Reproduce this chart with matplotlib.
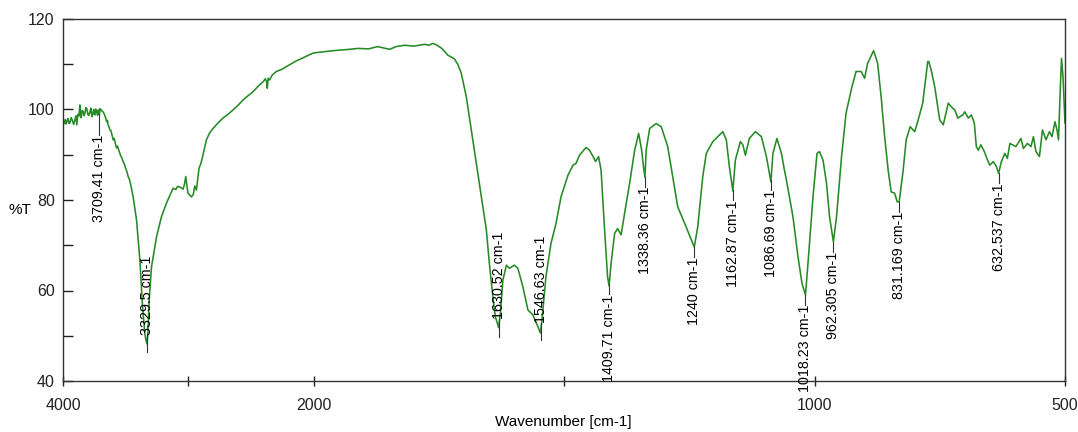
import numpy as np
import matplotlib
matplotlib.use("Agg")
import matplotlib.pyplot as plt

# FTIR spectrum (wavenumber in cm-1, transmittance in %T)
wavenumber = [
    4000, 3990, 3982, 3975, 3968, 3960, 3952, 3944, 3935, 3925, 3915, 3904, 3897, 3890,
    3882, 3875, 3870, 3865, 3860, 3855, 3848, 3840, 3832, 3825, 3818, 3810, 3802, 3795,
    3785, 3778, 3770, 3762, 3755, 3750, 3745, 3738, 3730, 3724, 3719, 3714, 3709, 3704,
    3700, 3690, 3681, 3672, 3665, 3658, 3652, 3645, 3640, 3633, 3626, 3618, 3612, 3605,
    3599, 3592, 3585, 3578, 3572, 3565, 3559, 3550, 3540, 3530, 3520, 3510, 3500, 3490,
    3480, 3470, 3460, 3440, 3413, 3386, 3365, 3347,
    3339, 3330, 3322, 3312, 3293, 3253, 3214, 3174, 3121, 3100, 3085, 3068, 3041, 3030,
    3020, 3010, 3002, 2975, 2960, 2948, 2935, 2914, 2900, 2887, 2870, 2855, 2830, 2802,
    2760, 2723, 2680, 2643, 2600, 2563, 2520, 2484, 2440, 2400, 2385, 2375, 2369, 2362,
    2351, 2330, 2297, 2250, 2191, 2140, 2085, 2040, 2000, 1961, 1928, 1911, 1890, 1872,
    1860, 1848, 1835, 1818, 1800, 1778, 1770, 1762, 1755, 1745, 1738, 1732, 1725, 1719,
    1712, 1705, 1695, 1685, 1675, 1665, 1655, 1649, 1642, 1637, 1632, 1630.5, 1627, 1622,
    1615, 1609, 1599, 1592, 1582, 1572, 1562, 1552, 1547, 1544, 1536, 1526, 1516, 1506,
    1492, 1482, 1476, 1469, 1456, 1449, 1442, 1437, 1431, 1426, 1419, 1413, 1410, 1406,
    1399, 1393, 1386, 1379, 1369, 1359, 1351, 1345, 1341, 1338.4, 1336, 1329, 1316, 1306,
    1293, 1283, 1273, 1259, 1246, 1240, 1233, 1223, 1216, 1203, 1183, 1176, 1170, 1163,
    1158, 1148, 1143, 1138, 1130, 1118, 1106, 1096, 1087, 1083, 1075, 1066, 1060, 1056,
    1043, 1033, 1025, 1018, 1013, 1003, 995, 990, 983, 976, 970, 962.3, 956, 946,
    937, 926, 917, 907, 900, 894, 882, 874, 867, 860, 853, 847, 840, 835,
    831, 823, 817, 809, 800, 794, 784, 774, 772, 767, 760, 750, 743, 733,
    727, 720, 714, 704, 700, 693, 687, 681, 677, 673, 668, 661, 656, 650,
    643, 637, 632.5, 627, 620, 615, 610, 598, 588, 583, 575, 568, 563, 558,
    551, 545, 538, 531, 526, 520, 516, 513, 510, 507, 504, 500,
]
transmittance = [
    97.7, 96.9, 97.8, 96.8, 97.5, 98.0, 96.9, 97.1, 98.2, 97.6, 96.7, 97.9, 98.6, 96.6,
    98.9, 98.6, 99.4, 101.0, 98.3, 98.2, 99.8, 99.6, 98.6, 99.2, 100.4, 100.2, 98.9, 98.7,
    99.5, 100.3, 98.4, 99.1, 100.0, 99.0, 98.8, 100.1, 99.3, 98.7, 99.9, 99.5, 98.9, 100.2,
    100.0, 99.7, 99.5, 99.1, 98.6, 98.0, 97.3, 97.6, 96.6, 96.2, 95.5, 95.4, 94.7, 94.0,
    93.3, 93.6, 92.9, 92.0, 91.5, 91.9, 91.4, 90.6, 89.8, 89.3, 88.5, 87.9, 87.0, 86.3,
    85.2, 84.6, 83.5, 80.7, 75.6, 66.7, 56.4, 50.6,
    49.2, 48.2, 50.5, 57.9, 65.3, 71.9, 76.3, 79.3, 82.6, 82.3, 83.0, 82.9, 82.4, 83.5,
    85.2, 83.0, 81.5, 80.7, 81.2, 83.1, 82.2, 87.0, 88.0, 89.4, 91.5, 93.3, 94.8, 95.8,
    97.1, 98.1, 99.0, 99.9, 101.0, 102.1, 103.1, 103.9, 105.2, 106.2, 106.8, 106.2, 104.7, 106.9,
    106.5, 107.6, 108.4, 108.9, 109.9, 110.7, 111.4, 112.0, 112.5, 113.0, 113.3, 113.5, 113.4, 113.9,
    113.6, 113.3, 113.9, 114.2, 114.0, 114.4, 114.2, 114.6, 114.3, 113.6, 112.8, 112.0, 111.6, 111.2,
    110.0, 108.0, 102.8, 95.5, 88.1, 80.7, 73.4, 66.0, 58.6, 54.2, 52.4, 51.8, 55.0, 62.3,
    65.6, 64.9, 65.6, 64.9, 60.8, 55.7, 54.6, 52.0, 50.6, 53.5, 63.1, 70.4, 74.8, 80.7,
    85.5, 87.7, 88.1, 89.9, 91.6, 91.0, 89.6, 88.5, 89.6, 86.6, 73.4, 63.0, 61.0, 66.0,
    72.6, 73.7, 72.3, 77.1, 83.7, 91.0, 94.7, 91.0, 87.0, 85.0, 91.0, 95.8, 96.9, 96.2,
    91.8, 85.2, 78.5, 74.8, 71.2, 69.6, 74.1, 85.2, 90.3, 92.9, 95.1, 93.3, 87.4, 82.0,
    88.8, 92.9, 92.2, 89.9, 93.6, 95.1, 94.0, 89.6, 84.0, 90.3, 93.6, 90.3, 86.6, 84.4,
    76.3, 67.5, 61.6, 59.0, 66.0, 80.7, 90.3, 90.7, 88.8, 83.7, 76.3, 70.8, 76.3, 89.6,
    99.2, 104.7, 108.4, 108.4, 106.9, 110.2, 113.0, 110.2, 102.8, 94.0, 86.6, 81.8, 81.5, 79.6,
    79.6, 86.6, 93.3, 96.2, 95.1, 97.3, 101.4, 110.6, 110.6, 108.7, 105.0, 97.7, 96.6, 101.4,
    100.6, 99.9, 98.1, 98.8, 99.5, 98.1, 98.8, 97.0, 91.8, 91.0, 92.2, 90.7, 89.2, 87.7,
    88.5, 87.4, 85.9, 88.5, 90.3, 89.2, 92.5, 91.8, 93.6, 91.4, 92.5, 91.8, 94.0, 90.7,
    89.6, 95.5, 93.3, 95.1, 94.0, 97.3, 95.5, 93.3, 102.8, 111.3, 107.3, 97.0,
]

peak_wn = [3709.41, 3329.5, 1630.52, 1546.63, 1409.71, 1338.36, 1240,
           1162.87, 1086.69, 1018.23, 962.305, 831.169, 632.537]
peak_labels = ["3709.41 cm-1", "3329.5 cm-1", "1630.52 cm-1", "1546.63 cm-1",
               "1409.71 cm-1", "1338.36 cm-1", "1240 cm-1", "1162.87 cm-1",
               "1086.69 cm-1", "1018.23 cm-1", "962.305 cm-1", "831.169 cm-1",
               "632.537 cm-1"]
label_above = [False, True, True, True, False, False, False,
               False, False, False, False, False, False]

xticks = [4000, 3000, 2000, 1500, 1000, 500]
xtick_labels = ["4000", "", "2000", "", "1000", "500"]
yticks = [40, 50, 60, 70, 80, 90, 100, 110, 120]
ytick_labels = ["40", "", "60", "", "80", "", "100", "", "120"]

LINE_COLOR = "#268a26"
NARROW = ["Liberation Sans Narrow", "Liberation Sans", "DejaVu Sans"]


def forward(w):
    # the region above 2000 cm-1 is compressed 4x, like the instrument's plot
    w = np.asarray(w, dtype=float)
    return np.where(w > 2000, 2000 + (w - 2000) / 4.0, w)


def inverse(u):
    u = np.asarray(u, dtype=float)
    return np.where(u > 2000, 2000 + (u - 2000) * 4.0, u)


plt.rcParams['font.family'] = ["Liberation Sans", "DejaVu Sans"]

fig = plt.figure(figsize=(10.78, 4.32), dpi=100)
ax = fig.add_axes([63 / 1078, 1 - 381 / 432, 1002 / 1078, 362 / 432])

ax.set_xscale('function', functions=(forward, inverse))
ax.plot(wavenumber, transmittance, color=LINE_COLOR, lw=1.15)
ax.set_xlim(4000, 500)
ax.set_ylim(40, 120)

# peak markers
wn_asc = np.array(wavenumber[::-1], dtype=float)
t_asc = np.array(transmittance[::-1], dtype=float)
for wn, txt, above in zip(peak_wn, peak_labels, label_above):
    y = np.interp(wn, wn_asc, t_asc)
    if above:
        ax.plot([wn, wn], [y - 2.0, y + 1.8], color="#333333", lw=0.8)
        ax.text(wn, y + 1.8, txt, rotation=90, ha='center', va='bottom',
                fontsize=10.3, family=NARROW)
    else:
        gap = 4.5 if wn > 3500 else 2.2
        ax.plot([wn, wn], [y, y - gap], color="#333333", lw=0.8)
        ax.text(wn, y - gap, txt, rotation=90, ha='center', va='top',
                fontsize=10.3, family=NARROW)

ax.set_xticks(xticks)
ax.set_xticklabels(xtick_labels)
ax.set_yticks(yticks)
ax.set_yticklabels(ytick_labels)
ax.minorticks_off()
ax.tick_params(axis='x', direction='inout', length=7, width=1, pad=9, labelsize=11.5, colors="#222222")
ax.tick_params(axis='y', direction='in', length=7, width=1, pad=6, labelsize=11.5, colors="#222222")
for sp in ax.spines.values():
    sp.set_color("#333333")
    sp.set_linewidth(1.0)

ax.set_xlabel("Wavenumber [cm-1]", fontsize=11, family=NARROW, va='top')
ax.xaxis.set_label_coords(0.499, -0.095)
ax.set_ylabel("%T", fontsize=11, family=NARROW, rotation=0, va='center', ha='center')
ax.yaxis.set_label_coords(-0.043, 0.472)

fig.savefig("out.png", dpi=100)
